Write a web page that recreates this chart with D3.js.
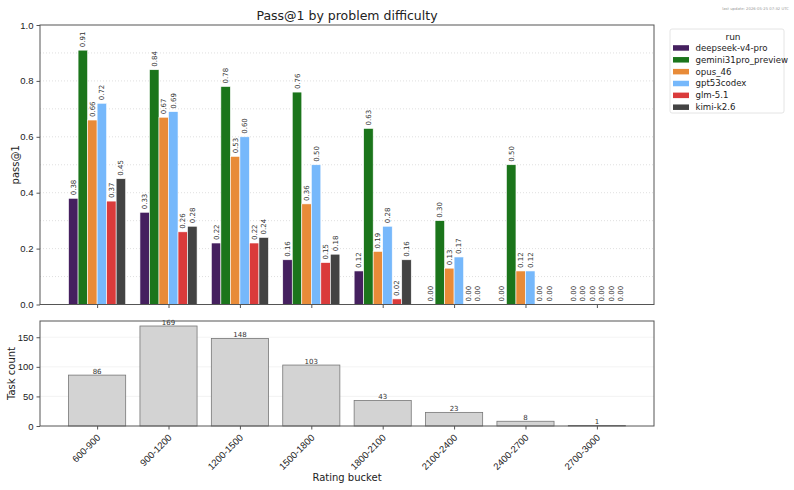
<!DOCTYPE html>
<html>
<head>
<meta charset="utf-8">
<script src="https://cdn.jsdelivr.net/npm/d3@7"></script>
<style>
  body { margin: 0; background: #fff; }
  svg { font-family: "DejaVu Sans", sans-serif; }
  .axis path, .axis line { stroke: #555; }
  .axis text { fill: #222; font-size: 9.5px; }
</style>
</head>
<body>
<svg id="chart" width="794" height="490"></svg>
<script>
// data
const buckets = ['600-900', '900-1200', '1200-1500', '1500-1800', '1800-2100', '2100-2400', '2400-2700', '2700-3000'];
const runs = ['deepseek-v4-pro', 'gemini31pro_preview', 'opus_46', 'gpt53codex', 'glm-5.1', 'kimi-k2.6'];
const runColors = ['#45205f', '#1b751b', '#e88b38', '#76b8fb', '#da3b3b', '#434343'];

const deepseek = [0.38, 0.33, 0.22, 0.16, 0.12, 0.00, 0.00, 0.00];
const gemini   = [0.91, 0.84, 0.78, 0.76, 0.63, 0.30, 0.50, 0.00];
const opus     = [0.66, 0.67, 0.53, 0.36, 0.19, 0.13, 0.12, 0.00];
const gpt53    = [0.72, 0.69, 0.60, 0.50, 0.28, 0.17, 0.12, 0.00];
const glm      = [0.37, 0.26, 0.22, 0.15, 0.02, 0.00, 0.00, 0.00];
const kimi     = [0.45, 0.28, 0.24, 0.18, 0.16, 0.00, 0.00, 0.00];
const passValues = [deepseek, gemini, opus, gpt53, glm, kimi];

const taskCounts = [86, 169, 148, 103, 43, 23, 8, 1];
const passTicks = [0, 0.2, 0.4, 0.6, 0.8, 1.0];
const countTicks = [0, 50, 100, 150];

const svg = d3.select('#chart');

const left = 40, right = 654;
const top1 = 25, bottom1 = 304.5;
const top2 = 321, bottom2 = 426;

// category index -> pixel, with matplotlib-ish margins
const x = d3.scaleLinear().domain([-0.8, buckets.length - 0.2]).range([left, right]);
const groupWidth = 0.8;
const barW = groupWidth / runs.length;

const y1 = d3.scaleLinear().domain([0, 1]).range([bottom1, top1]);
const y2 = d3.scaleLinear().domain([0, d3.max(taskCounts) * 1.05]).range([bottom2, top2]);

// ---------- top panel ----------
const g1 = svg.append('g');

g1.append('g')
  .selectAll('line')
  .data(d3.range(1, 10).map(d => d / 10))
  .enter().append('line')
    .attr('x1', left).attr('x2', right)
    .attr('y1', d => y1(d)).attr('y2', d => y1(d))
    .attr('stroke', '#d8d8d8')
    .attr('stroke-width', 0.8)
    .attr('stroke-dasharray', '1,2');

runs.forEach((run, i) => {
  const vals = passValues[i];
  const offset = -groupWidth / 2 + i * barW;
  g1.append('g')
    .selectAll('rect')
    .data(vals)
    .enter().append('rect')
      .attr('x', (d, j) => x(j + offset))
      .attr('width', x(barW) - x(0))
      .attr('y', d => y1(d))
      .attr('height', d => y1(0) - y1(d))
      .attr('fill', runColors[i])
      .attr('stroke', '#fff')
      .attr('stroke-width', 0.6);

  g1.append('g')
    .selectAll('text')
    .data(vals)
    .enter().append('text')
      .attr('transform', (d, j) => 'translate(' + (x(j + offset + barW / 2) + 2.5) + ',' + (y1(d) - 3) + ') rotate(-90)')
      .attr('font-size', '7px')
      .attr('fill', '#333')
      .text(d => d.toFixed(2));
});

g1.append('g')
  .attr('class', 'axis')
  .attr('transform', 'translate(' + left + ',0)')
  .call(d3.axisLeft(y1).tickValues(passTicks).tickFormat(d3.format('.1f')).tickSize(3.5).tickPadding(3))
  .call(g => g.select('.domain').remove());

g1.append('g')
  .attr('class', 'axis')
  .attr('transform', 'translate(0,' + bottom1 + ')')
  .call(d3.axisBottom(x).tickValues(d3.range(buckets.length)).tickFormat('').tickSize(3.5))
  .call(g => g.select('.domain').remove());

g1.append('rect')
  .attr('x', left).attr('y', top1)
  .attr('width', right - left).attr('height', bottom1 - top1)
  .attr('fill', 'none').attr('stroke', '#555').attr('stroke-width', 1);

g1.append('text')
  .attr('x', (left + right) / 2).attr('y', 20)
  .attr('text-anchor', 'middle')
  .attr('font-size', '12.5px')
  .attr('fill', '#222')
  .text('Pass@1 by problem difficulty');

g1.append('text')
  .attr('transform', 'translate(19,' + ((top1 + bottom1) / 2) + ') rotate(-90)')
  .attr('text-anchor', 'middle')
  .attr('font-size', '10px')
  .attr('fill', '#222')
  .text('pass@1');

// ---------- bottom panel ----------
const g2 = svg.append('g');

g2.append('g')
  .selectAll('line')
  .data(countTicks.slice(1))
  .enter().append('line')
    .attr('x1', left).attr('x2', right)
    .attr('y1', d => y2(d)).attr('y2', d => y2(d))
    .attr('stroke', '#f0f0f0')
    .attr('stroke-width', 0.8);

g2.append('g')
  .selectAll('rect')
  .data(taskCounts)
  .enter().append('rect')
    .attr('x', (d, j) => x(j - groupWidth / 2))
    .attr('width', x(groupWidth) - x(0))
    .attr('y', d => y2(d))
    .attr('height', d => y2(0) - y2(d))
    .attr('fill', '#d3d3d3')
    .attr('stroke', '#777')
    .attr('stroke-width', 0.8);

g2.append('g')
  .selectAll('text')
  .data(taskCounts)
  .enter().append('text')
    .attr('x', (d, j) => x(j))
    .attr('y', d => y2(d) - 1.5)
    .attr('text-anchor', 'middle')
    .attr('font-size', '7px')
    .attr('fill', '#333')
    .text(d => d);

g2.append('g')
  .attr('class', 'axis')
  .attr('transform', 'translate(' + left + ',0)')
  .call(d3.axisLeft(y2).tickValues(countTicks).tickSize(3.5).tickPadding(3))
  .call(g => g.select('.domain').remove());

g2.append('g')
  .attr('class', 'axis')
  .attr('transform', 'translate(0,' + bottom2 + ')')
  .call(d3.axisBottom(x).tickValues(d3.range(buckets.length)).tickFormat(i => buckets[i]).tickSize(3.5))
  .call(g => g.select('.domain').remove())
  .selectAll('text')
    .attr('x', 0)
    .attr('y', 0)
    .attr('dx', 0)
    .attr('dy', '0.35em')
    .attr('text-anchor', 'end')
    .attr('transform', 'translate(1,10) rotate(-45)');

g2.append('rect')
  .attr('x', left).attr('y', top2)
  .attr('width', right - left).attr('height', bottom2 - top2)
  .attr('fill', 'none').attr('stroke', '#555').attr('stroke-width', 1);

g2.append('text')
  .attr('transform', 'translate(15,' + ((top2 + bottom2) / 2) + ') rotate(-90)')
  .attr('text-anchor', 'middle')
  .attr('font-size', '10px')
  .attr('fill', '#222')
  .text('Task count');

g2.append('text')
  .attr('x', (left + right) / 2).attr('y', 481)
  .attr('text-anchor', 'middle')
  .attr('font-size', '10px')
  .attr('fill', '#222')
  .text('Rating bucket');

// ---------- legend ----------
const legend = svg.append('g').attr('transform', 'translate(670,29)');
legend.append('rect')
  .attr('width', 114).attr('height', 84)
  .attr('rx', 2)
  .attr('fill', '#fff').attr('stroke', '#ddd').attr('stroke-width', 0.8);
legend.append('text')
  .attr('x', 63).attr('y', 10.5)
  .attr('text-anchor', 'middle')
  .attr('font-size', '9px')
  .attr('fill', '#222')
  .text('run');
runs.forEach((run, i) => {
  const row = legend.append('g').attr('transform', 'translate(0,' + (18.7 + i * 11.85) + ')');
  row.append('rect')
    .attr('x', 3).attr('y', -2.5)
    .attr('width', 16).attr('height', 5.5)
    .attr('fill', runColors[i]);
  row.append('text')
    .attr('x', 25.5).attr('y', 3.2)
    .attr('font-size', '8.6px')
    .attr('fill', '#222')
    .text(run);
});

// timestamp
svg.append('text')
  .attr('x', 789).attr('y', 9.5)
  .attr('text-anchor', 'end')
  .attr('font-size', '3.8px')
  .attr('fill', '#999')
  .text('last update: 2026-05-25 07:32 UTC');
</script>
</body>
</html>
